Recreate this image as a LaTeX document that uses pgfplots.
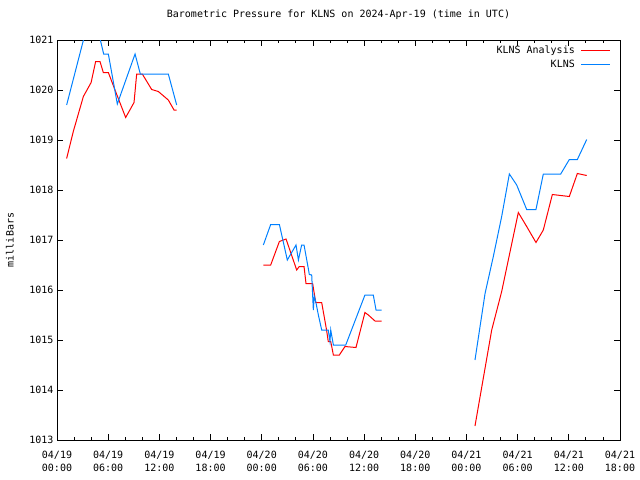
\documentclass[border=0pt]{standalone}
\usepackage{fontspec}
\setmainfont{DejaVu Sans Mono}
\usepackage{pgfplots}
\pgfplotsset{compat=1.18}
\definecolor{klnsblue}{RGB}{0,128,255}
\begin{document}
\begin{tikzpicture}[font=\fontsize{10bp}{12bp}\selectfont]
\begin{axis}[
  scale only axis,
  width=563bp, height=400bp,
  at={(0,0)}, anchor=south west,
  xmin=0, xmax=66, ymin=1013, ymax=1021,
  xtick={0,6,...,66},
  xticklabels={{04/19\\00:00},{04/19\\06:00},{04/19\\12:00},{04/19\\18:00},{04/20\\00:00},{04/20\\06:00},{04/20\\12:00},{04/20\\18:00},{04/21\\00:00},{04/21\\06:00},{04/21\\12:00},{04/21\\18:00}},
  xticklabel style={align=center, font=\fontsize{10bp}{13bp}\selectfont, yshift=-8bp},
  minor x tick num=2,
  ytick={1013,1014,...,1021},
  yticklabel style={/pgf/number format/1000 sep={}, /pgf/number format/assume math mode=true},
  tick align=inside,
  major tick length=6bp, minor tick length=3bp,
  axis line style={line width=0.8bp},
  every tick/.style={black, line width=0.8bp},
  title={Barometric Pressure for KLNS on 2024-Apr-19 (time in UTC)},
  title style={at={(0.5,1)}, anchor=base, yshift=17bp},
  ylabel={milliBars},
  ylabel style={at={(axis description cs:-0.0835,0.5)}, anchor=center},
  unbounded coords=jump,
  legend plot pos=right,
  legend cell align=right,
  legend style={at={(1,1)}, anchor=north east, draw=none, fill=none, xshift=-6bp, yshift=-2bp, row sep=0.5bp, column sep=4bp},
]
\addplot[red, line width=1bp, legend image code/.code={\draw[red, line width=1bp] (0bp,0bp) -- (29bp,0bp);}] table {
x y
1.13 1018.63
1.91 1019.17
3.09 1019.87
4.0 1020.15
4.53 1020.57
5.04 1020.57
5.43 1020.35
6.02 1020.35
6.8 1020.0
8.05 1019.45
9.03 1019.75
9.34 1020.32
10.0 1020.32
11.1 1020.01
11.88 1019.97
13.05 1019.8
13.72 1019.6
14.03 1019.6
nan nan
24.19 1016.5
25.05 1016.5
26.07 1016.97
26.85 1017.02
28.1 1016.4
28.4 1016.47
28.96 1016.47
29.19 1016.13
29.97 1016.13
30.33 1015.75
31.03 1015.75
31.6 1015.2
31.8 1014.97
32.09 1014.97
32.4 1014.7
33.1 1014.7
33.76 1014.87
35.05 1014.85
36.1 1015.55
36.5 1015.5
37.28 1015.38
38.06 1015.38
nan nan
49.0 1013.28
50.96 1015.2
52.13 1015.97
54.08 1017.55
55.06 1017.27
56.15 1016.95
57.01 1017.2
58.07 1017.91
59.05 1017.89
60.06 1017.87
61.0 1018.33
62.1 1018.29
};
\addlegendentry{KLNS Analysis}
\addplot[klnsblue, line width=1bp, legend image code/.code={\draw[klnsblue, line width=1bp] (0bp,0bp) -- (29bp,0bp);}] table {
x y
1.13 1019.7
3.1 1021.0
4.0 1021.6
5.0 1021.06
5.47 1020.72
6.02 1020.72
7.07 1019.72
9.15 1020.72
9.77 1020.32
13.05 1020.32
14.03 1019.7
nan nan
24.19 1016.9
25.05 1017.31
26.07 1017.31
27.0 1016.6
27.51 1016.75
28.02 1016.9
28.3 1016.6
28.68 1016.9
28.96 1016.9
29.46 1016.43
29.58 1016.31
29.86 1016.3
30.05 1015.6
30.16 1015.87
30.33 1015.77
30.64 1015.5
31.03 1015.2
31.8 1015.2
32.0 1014.97
32.09 1015.2
32.4 1014.9
33.85 1014.9
36.1 1015.9
37.08 1015.9
37.4 1015.6
38.06 1015.6
nan nan
49.0 1014.6
50.18 1015.93
51.15 1016.67
52.13 1017.47
53.03 1018.32
53.89 1018.1
55.06 1017.61
56.15 1017.61
57.01 1018.32
59.05 1018.32
60.06 1018.61
61.0 1018.61
62.1 1019.01
};
\addlegendentry{KLNS}
\end{axis}
\useasboundingbox (-57bp,-40bp) rectangle (583bp,440bp);
\end{tikzpicture}
\end{document}
